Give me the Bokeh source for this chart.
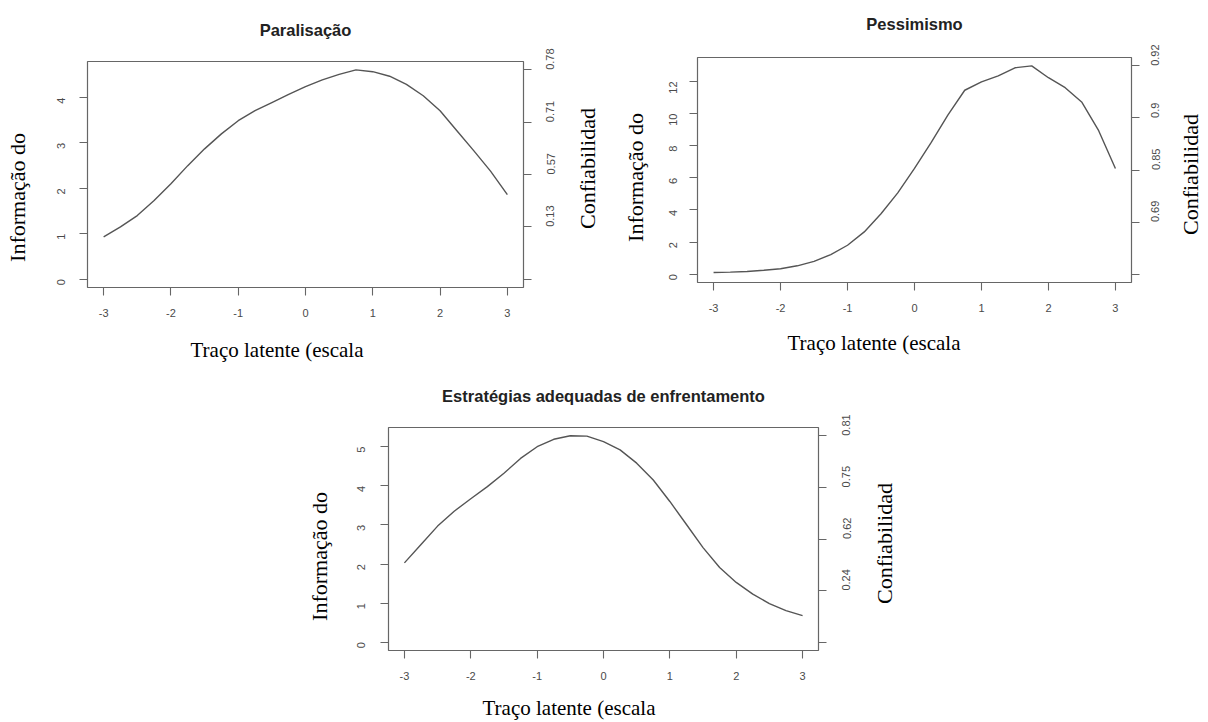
import math
from bokeh.plotting import figure
from bokeh.models import Range1d, LinearAxis, FixedTicker, Label, Spacer
from bokeh.layouts import column, row
from bokeh.embed import file_html
from bokeh.resources import INLINE

# ---- data ----
theta = [-3.0, -2.75, -2.5, -2.25, -2.0, -1.75, -1.5, -1.25, -1.0, -0.75, -0.5, -0.25,
         0.0, 0.25, 0.5, 0.75, 1.0, 1.25, 1.5, 1.75, 2.0, 2.25, 2.5, 2.75, 3.0]

info_paralisacao = [0.93, 1.15, 1.40, 1.73, 2.10, 2.50, 2.87, 3.20, 3.49, 3.71, 3.89, 4.07,
                    4.24, 4.39, 4.51, 4.61, 4.57, 4.47, 4.29, 4.04, 3.71, 3.27, 2.83, 2.38, 1.86]
info_pessimismo = [0.10, 0.13, 0.17, 0.24, 0.34, 0.52, 0.80, 1.22, 1.80, 2.63, 3.76, 5.06,
                   6.58, 8.20, 9.92, 11.45, 11.97, 12.35, 12.85, 12.97, 12.23, 11.61, 10.70, 8.93, 6.58]
info_estrategias = [2.03, 2.50, 2.97, 3.35, 3.67, 3.98, 4.32, 4.70, 5.00, 5.19, 5.28, 5.27,
                    5.13, 4.92, 4.58, 4.15, 3.60, 3.01, 2.42, 1.91, 1.53, 1.23, 0.99, 0.81, 0.68]

titles = ["Paralisação", "Pessimismo", "Estratégias adequadas de enfrentamento"]
x_ticks = [-3, -2, -1, 0, 1, 2, 3]
x_tick_labels = ["-3", "-2", "-1", "0", "1", "2", "3"]
left_ticks_paralisacao = [0, 1, 2, 3, 4]
left_ticks_pessimismo = [0, 2, 4, 6, 8, 10, 12]
left_ticks_estrategias = [0, 1, 2, 3, 4, 5]
right_labels_paralisacao = ["", "0.13", "0.57", "0.71", "0.78"]
right_labels_pessimismo = ["", "0.69", "0.85", "0.9", "0.92"]
right_labels_estrategias = ["", "0.24", "0.62", "0.75", "0.81"]

x_label = "Traço latente (escala"
y_label = "Informação do"
y2_label = "Confiabilidad"

GRAY = "#666666"
TICKLAB = "#4a4a4a"
SERIF = "Liberation Serif"


def make_panel(title, info, left_ticks, right_labels, width, height, mb, frame_w, frame_h,
               lstand, rstand, pos_title, pos_left, pos_right, pos_below):
    ymax = max(info)
    ext = 0.04 * ymax
    p = figure(width=width, height=height, output_backend="svg", toolbar_location=None,
               title=None,
               x_range=Range1d(-3.24, 3.24), y_range=Range1d(-ext, ymax + ext),
               min_border_left=mb[0], min_border_right=mb[1], min_border_top=mb[2],
               min_border_bottom=mb[3], frame_width=frame_w, frame_height=frame_h)
    p.background_fill_color = "white"
    p.border_fill_color = "white"
    p.xgrid.visible = False
    p.ygrid.visible = False
    p.outline_line_color = GRAY
    p.outline_line_width = 1.2

    p.line(theta, info, line_color="#555555", line_width=1.4)

    def style(ax):
        ax.axis_line_color = None
        ax.major_tick_line_color = GRAY
        ax.major_tick_line_width = 1.1
        ax.major_tick_in = 0
        ax.major_tick_out = 8
        ax.minor_tick_line_color = None
        ax.major_label_text_font = "Liberation Sans"
        ax.major_label_text_font_size = "11px"
        ax.major_label_text_color = TICKLAB

    xa = p.xaxis[0]
    style(xa)
    xa.ticker = FixedTicker(ticks=x_ticks)
    xa.major_label_overrides = {t: s for t, s in zip(x_ticks, x_tick_labels)}
    xa.major_label_standoff = 13

    ya = p.yaxis[0]
    style(ya)
    ya.ticker = FixedTicker(ticks=left_ticks)
    ya.major_label_orientation = math.pi / 2
    ya.major_label_standoff = lstand

    rpos = [ymax * k / 4 for k in range(5)]
    ra = LinearAxis(ticker=FixedTicker(ticks=rpos),
                    major_label_overrides={v: s for v, s in zip(rpos, right_labels)})
    style(ra)
    ra.major_label_orientation = math.pi / 2
    ra.major_label_standoff = rstand
    p.add_layout(ra, "right")

    common = dict(x_units="screen", y_units="screen", text_baseline="middle")
    p.add_layout(Label(x=pos_title[0], y=pos_title[1], text=title, text_align="center",
                       text_font="Liberation Sans", text_font_style="bold",
                       text_font_size="16.5px", text_color="#222222", **common), "above")
    serif = dict(text_font=SERIF, text_color="black", **common)
    p.add_layout(Label(x=pos_left[0], y=pos_left[1], text=y_label, angle=math.pi / 2,
                       text_align="center", text_font_size="22px", **serif), "left")
    p.add_layout(Label(x=pos_right[0], y=pos_right[1], text=y2_label, angle=math.pi / 2,
                       text_align="center", text_font_size="22px", **serif), "right")
    p.add_layout(Label(x=pos_below[0], y=pos_below[1], text=x_label,
                       text_align="left", text_font_size="21px", **serif), "below")
    return p


p1 = make_panel(titles[0], info_paralisacao, left_ticks_paralisacao, right_labels_paralisacao,
                615, 370, (87, 92, 61, 83), 436, 226,
                18, 19, (218, 32), (-8, 90), (26, 119), (103, -6))
p2 = make_panel(titles[1], info_pessimismo, left_ticks_pessimismo, right_labels_pessimismo,
                590, 370, (82, 74, 57, 88), 434, 225,
                16, 16, (217, 34), (-2, 105), (24, 108), (90, -4))
p3 = make_panel(titles[2], info_estrategias, left_ticks_estrategias, right_labels_estrategias,
                600, 352, (88, 82, 57, 72), 430, 223,
                19, 20, (215, 32), (-6, 94), (27, 107), (94, -1))

top_row = row(column(p1, spacing=0), column(p2, spacing=0), spacing=0)
bottom_row = row(Spacer(width=300, height=352), p3, spacing=0)
layout = column(top_row, bottom_row, spacing=0)

open("out.html", "w").write(file_html(layout, INLINE))
